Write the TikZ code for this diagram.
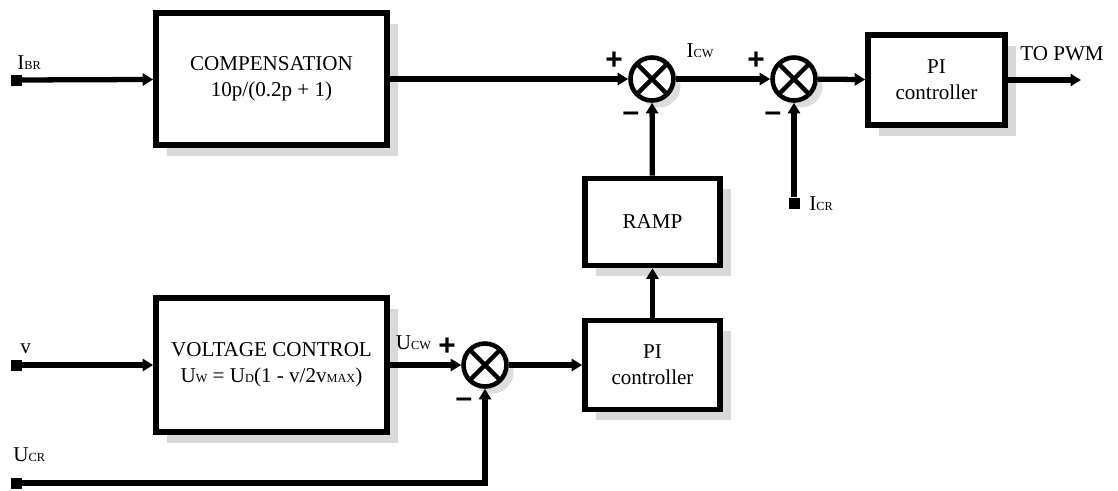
\documentclass[tikz,border=0pt]{standalone}
\usepackage{fontspec}
\setmainfont{Liberation Serif}
\setsansfont{Liberation Sans}
\usepackage{tikz}
\usetikzlibrary{arrows.meta,positioning,calc,shadows}
\definecolor{bdedge}{RGB}{0,0,0}
\definecolor{bdshade}{RGB}{120,120,120}
\newcommand{\bdsub}[2]{#1{\fontsize{7}{8}\selectfont #2}}
\tikzset{
  bdbox/.style={
    draw=bdedge, line width=3.2pt, fill=white, align=center,
    font=\fontsize{12}{15}\selectfont,
    drop shadow={shadow xshift=6pt, shadow yshift=-6pt, opacity=0.28, fill=bdshade}
  },
  sumj/.style={
    circle, draw=bdedge, line width=2.6pt, fill=white, minimum size=0.86cm, inner sep=0pt,
    drop shadow={shadow xshift=4pt, shadow yshift=-4pt, opacity=0.25, fill=bdshade},
    path picture={
      \draw[line width=2.6pt] (path picture bounding box.north west) -- (path picture bounding box.south east)
                              (path picture bounding box.north east) -- (path picture bounding box.south west);
    }
  },
  term/.style={fill=bdedge, minimum size=0.22cm, inner sep=0pt},
  arr/.style={-{Triangle[length=2.1mm,width=2.4mm]}, draw=bdedge, line width=3pt},
  lbl/.style={font=\fontsize{12}{14}\selectfont, inner sep=0pt},
  sgn/.style={font=\sffamily\bfseries\fontsize{17}{17}\selectfont, inner sep=0pt},
  every picture/.append style={line join=miter}
}

\begin{document}
\begin{tikzpicture}
  \useasboundingbox (0,0) rectangle (22.36,-9.8);
  % upper current loop
  \node[term] (ibr) at (0.32,-1.6) {};
  \node[bdbox, minimum width=4.62cm, minimum height=2.64cm] (comp) at (5.43,-1.58)
    {COMPENSATION\\10p/(0.2p + 1)};
  \node[sumj] (s1) at (13.04,-1.58) {};
  \node[sumj] (s2) at (15.88,-1.58) {};
  \node[bdbox, minimum width=2.74cm, minimum height=1.8cm] (pitop) at (18.73,-1.6)
    {PI\\controller};
  \coordinate (pwm) at (21.62,-1.6);
  \node[term] (icr) at (15.88,-4.06) {};
  \node[bdbox, minimum width=2.7cm, minimum height=1.74cm] (ramp) at (13.05,-4.44) {RAMP};
  % lower voltage loop
  \node[term] (vin) at (0.32,-7.3) {};
  \node[bdbox, minimum width=4.62cm, minimum height=2.68cm] (vctl) at (5.43,-7.3)
    {VOLTAGE CONTROL\\\bdsub{U}{W} = \bdsub{U}{D}(1 - v/2\bdsub{v}{MAX})};
  \node[sumj] (s3) at (9.7,-7.3) {};
  \node[bdbox, minimum width=2.7cm, minimum height=1.78cm] (pilow) at (13.05,-7.3)
    {PI\\controller};
  \node[term] (ucr) at (0.32,-9.66) {};
  \coordinate (ucrk) at (s3 |- ucr);

  \draw[arr] (ibr) -- (comp);
  \draw[arr] (comp) -- (s1);
  \draw[arr] (s1) -- (s2);
  \draw[arr] (s2) -- (pitop);
  \draw[arr] (pitop) -- (pwm);
  \draw[arr] (ramp) -- (s1);
  \draw[arr] (icr) -- (s2);
  \draw[arr] (vin) -- (vctl);
  \draw[arr] (vctl) -- (s3);
  \draw[arr] (s3) -- (pilow);
  \draw[arr] (pilow) -- (ramp);
  \draw[arr] (ucr) -- (ucrk) -- (s3);

  % labels and signs
  \node[lbl, anchor=south west] at ($(ibr)+(0.02,0.2)$) {\bdsub{I}{BR}};
  \node[lbl, anchor=south west] at ($(vin)+(0.08,0.22)$) {v};
  \node[lbl, anchor=south west] at ($(ucr)+(-0.06,0.42)$) {\bdsub{U}{CR}};
  \node[lbl, anchor=west] at ($(icr)+(0.3,-0.02)$) {\bdsub{I}{CR}};
  \node[lbl] at (14.0,-1.02) {\bdsub{I}{CW}};
  \node[lbl] at (8.27,-6.85) {\bdsub{U}{CW}};
  \node[lbl] at (21.24,-1.08) {TO PWM};
  \foreach \s in {s1,s2,s3} {
    \node[sgn] at ($(\s)+(-0.76,0.36)$) {+};
    \node[sgn] at ($(\s)+(-0.42,-0.76)$) {\textendash};
  }
\end{tikzpicture}
\end{document}
